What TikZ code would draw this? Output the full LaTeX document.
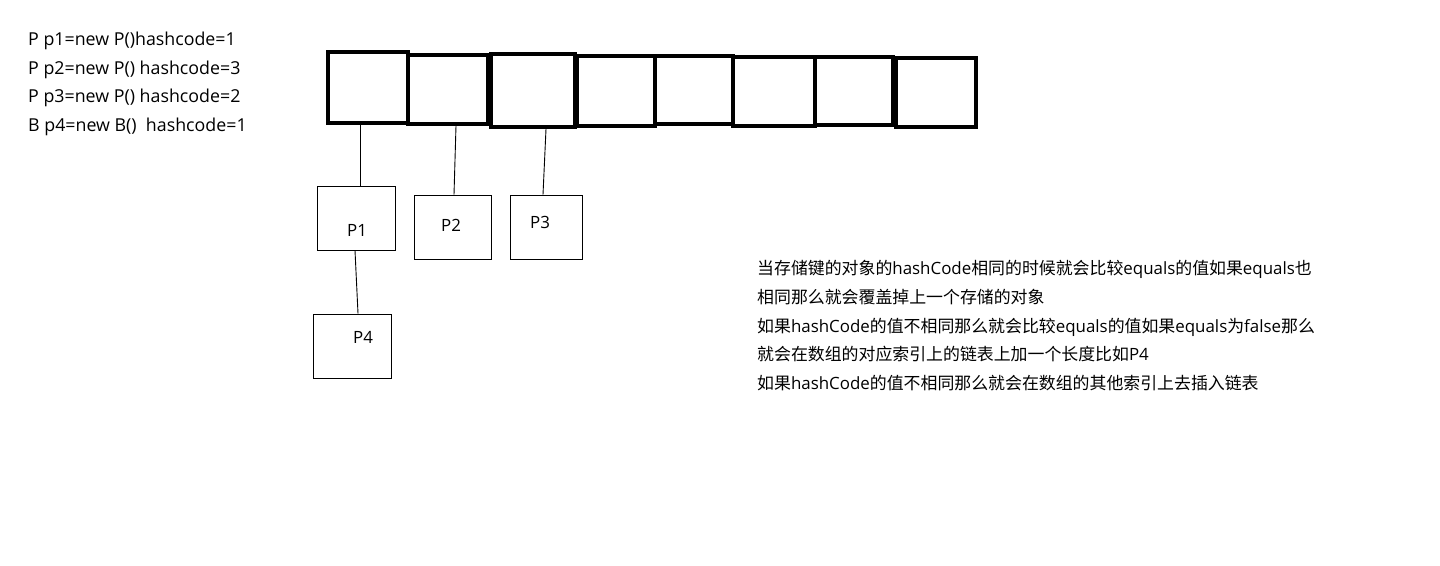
\documentclass[tikz,border=0pt]{standalone}
\usepackage{fontspec}
\setmainfont{Noto Sans CJK SC}
\newfontfamily\lat{Open Sans}
\begin{document}
\begin{tikzpicture}[x=1pt,y=-1pt,
  cell/.style={draw,rectangle,inner sep=0pt,line width=3.2pt},
  obj/.style={draw,rectangle,inner sep=0pt,line width=0.9pt},
  txt/.style={anchor=base west,inner sep=0pt,font=\fontsize{16.9}{20}\selectfont},
  code/.style={anchor=base west,inner sep=0pt,font=\fontsize{17.8}{20}\selectfont\lat},
  link/.style={line width=0.9pt}]
\useasboundingbox (0,0) rectangle (1440,565);
\fill[white] (0,0) rectangle (1440,565);
% code lines
\node[code] (l1) at (28,45) {P p1=new P()hashcode=1};
\node[code] (l2) at (28,74) {P p2=new P() hashcode=3};
\node[code] (l3) at (28,102) {P p3=new P() hashcode=2};
\node[code] (l4) at (28,131) {B p4=new B()\ \ hashcode=1};
% array cells
\node[cell,line width=4pt,minimum width=80pt,minimum height=71pt] (c1) at (368,87.5) {};
\node[cell,minimum width=80pt,minimum height=69pt] (c2) at (448,89.5) {};
\node[cell,line width=4pt,minimum width=84pt,minimum height=73pt] (c3) at (533,90.5) {};
\node[cell,minimum width=78pt,minimum height=70pt] (c4) at (616,91) {};
\node[cell,minimum width=78pt,minimum height=68pt] (c5) at (694,90) {};
\node[cell,minimum width=82pt,minimum height=69pt] (c6) at (774,91.5) {};
\node[cell,minimum width=78pt,minimum height=68pt] (c7) at (854,91) {};
\node[cell,minimum width=80pt,minimum height=69pt] (c8) at (936,92.5) {};
% objects
\node[obj,minimum width=78pt,minimum height=64pt] (p1) at (356,218) {};
\node[obj,minimum width=77pt,minimum height=64pt] (p2) at (452.5,227) {};
\node[obj,minimum width=72pt,minimum height=64pt] (p3) at (546,227) {};
\node[obj,minimum width=78pt,minimum height=64pt] (p4) at (352,346) {};
\node[code,font=\fontsize{16.9}{20}\selectfont\lat] (t1) at (347,236) {P1};
\node[code,font=\fontsize{16.9}{20}\selectfont\lat] (t2) at (441,231) {P2};
\node[code,font=\fontsize{16.9}{20}\selectfont\lat] (t3) at (530,228) {P3};
\node[code,font=\fontsize{16.9}{20}\selectfont\lat] (t4) at (353,343) {P4};
% links
\draw[link] ([xshift=-8pt]c1.south) -- ([xshift=4pt]p1.north);
\draw[link] ([xshift=8pt]c2.south) -- ([xshift=1.5pt]p2.north);
\draw[link] ([xshift=13pt]c3.south) -- ([xshift=-3pt]p3.north);
\draw[link] ([xshift=-1pt]p1.south) -- ([xshift=6pt]p4.north);
% explanation
\node[txt] (e1) at (757,274) {当存储键的对象的{\lat hashCode}相同的时候就会比较{\lat equals}的值如果{\lat equals}也};
\node[txt] (e2) at (757,303) {相同那么就会覆盖掉上一个存储的对象};
\node[txt] (e3) at (757,332) {如果{\lat hashCode}的值不相同那么就会比较{\lat equals}的值如果{\lat equals}为{\lat false}那么};
\node[txt] (e4) at (757,360) {就会在数组的对应索引上的链表上加一个长度比如{\lat P4}};
\node[txt] (e5) at (757,389) {如果{\lat hashCode}的值不相同那么就会在数组的其他索引上去插入链表};
\end{tikzpicture}
\end{document}
